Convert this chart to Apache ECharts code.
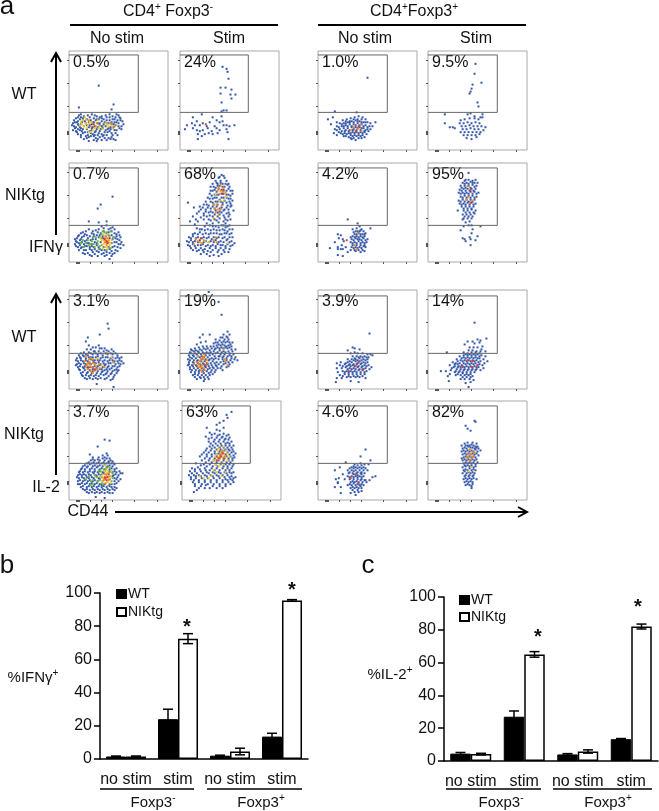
<!DOCTYPE html>
<html>
<head>
<meta charset="utf-8">
<style>html,body{margin:0;padding:0;background:#fff}#main{width:659px;height:811px}</style>
<script src="https://cdn.jsdelivr.net/npm/echarts@6/dist/echarts.min.js"></script>
</head>
<body>
<div id="main"></div>
<script>
// flow panels: flat x,y lists in gate units (0-100 both ways), hot lists are x,y,level
const p1Blue = [30,65,10,43,45,46,43,41,10,35,15,34,23,36,28,34,37,35,44,34,48,36,51,33,7,32,12,33,18,31,25,32,31,33,35,31,41,33,46,31,52,32,5,30,9,29,14,30,20,28,27,30,33,29,38,30,43,28,49,30,54,29,4,27,8,28,12,26,17,27,23,26,29,27,35,26,40,27,45,26,50,27,5,24,10,25,15,24,20,23,26,24,31,25,37,24,42,23,47,25,53,24,6,22,12,22,18,21,23,22,28,21,34,22,39,21,44,22,51,22,7,19,11,20,16,18,21,19,26,18,31,19,36,18,41,19,48,20,9,16,14,17,19,15,24,16,29,15,33,16,38,15,43,17,49,15,12,13,18,12,22,14,27,12,31,13,36,12,45,11,20,9,28,9,38,10,47,10,
12,36,19,35,26,35,33,34,41,36,47,33,9,33,14,32,21,33,28,31,33,32,38,33,44,31,50,35,6,28,11,31,16,29,22,30,25,28,30,31,36,28,41,30,46,28,52,30,3,25,9,26,13,28,18,25,24,28,31,27,34,24,38,27,43,26,48,28,55,26,7,23,11,23,14,21,21,25,24,23,29,23,33,24,40,22,45,23,50,24,4,20,9,21,13,19,19,18,23,20,27,19,32,21,37,20,42,21,46,20,53,21,8,18,12,15,17,14,22,17,26,15,30,17,35,15,39,18,44,15,47,17,15,11,20,13,25,14,29,11,34,14,40,12,43,13,25,10,33,10,42,11];
const p1Hot = [14,30,2,17,27,2,19,25,2,15,24,2,18,22,2,21,28,2,22,24,3,25,26,4,26,22,2,24,20,2,28,27,3,31,24,2,37,27,2,40,24,2,43,25,2,46,24,3,48,26,2,34,21,2,20,18,2,17,31,2,12,28,2,16,33,2,20,30,3,23,28,2,27,24,3,29,30,2,13,26,2,11,25,2,22,18,2,30,22,2,35,24,2,42,27,3,44,22,2,39,26,2];
const p2Blue = [43,84,47,82,48,79,49,72,41,63,46,63,52,61,51,56,56,56,52,52,41,57,42,48,42,39,47,40,44,40,22,36,13,33,33,33,42,34,7,25,12,27,17,29,23,27,30,28,37,30,40,28,43,29,47,25,50,24,55,25,5,21,13,22,17,20,20,19,23,20,28,22,32,19,37,22,40,20,47,21,18,16,25,16,33,16,38,17,48,18,18,11,22,14,49,11,29,17,27,24,35,24,44,25,15,25,20,25];
const p2Hot = [26,26,4];
const p3Blue = [44,66,32,58,29,54,20,41,30,40,38,41,14,30,20,33,27,32,33,36,38,37,42,34,46,33,10,27,16,28,23,29,29,30,35,31,40,30,46,29,50,30,8,24,13,25,19,24,25,26,31,27,37,26,43,27,48,26,52,25,7,21,11,22,16,21,22,22,27,23,33,24,44,23,49,23,53,20,6,18,10,19,15,18,20,19,26,20,46,20,50,18,55,17,9,15,13,15,18,16,23,16,28,17,46,16,52,14,10,12,15,12,21,13,26,13,31,13,36,12,41,13,47,12,14,9,19,9,24,10,30,10,35,9,41,9,46,9,23,6,29,6,36,6,43,6,41,3,
17,31,24,31,30,33,35,34,40,33,44,35,12,29,18,27,25,28,32,29,38,29,43,31,48,28,9,26,15,26,21,26,28,27,34,26,40,27,45,25,51,27,6,23,12,23,18,22,24,23,30,25,35,24,41,24,47,24,51,22,8,20,13,20,18,19,23,18,28,19,32,20,38,20,43,19,48,20,52,18,7,16,11,17,16,16,21,15,25,15,30,15,35,15,40,15,44,15,49,15,12,14,17,12,23,12,28,11,33,12,38,10,43,11,49,11,16,8,21,7,26,8,33,8,38,7,44,8];
const p3Hot = [14,22,1,17,19,1,20,17,1,23,21,1,25,18,1,15,15,1,27,25,1,29,21,1,31,16,1,33,28,1,36,30,1,30,13,1,38,12,1,42,31,1,19,22,1,22,18,1,12,19,1,26,15,1,24,25,1,31,25,1,34,31,1,33,17,1,38,30,1,42,14,1,45,25,1,29,18,1,33,22,2,35,18,2,36,26,2,39,28,2,41,17,2,43,22,2,34,14,2,39,14,2,35,22,2,42,19,2,37,15,2,32,24,2,35,28,2,37,22,3,39,24,3,36,20,3,40,20,3,38,17,3,41,26,3,37,24,3,38,19,3,40,22,3,38,21,4,36,23,4,39,19,4];
const p4Blue = [42,88,39,85,45,85,36,82,41,82,47,82,33,79,38,79,43,79,49,79,31,76,36,75,40,77,45,76,50,76,33,72,37,71,42,73,47,72,51,72,30,69,35,68,39,68,44,69,49,68,53,69,28,65,33,64,37,65,42,65,47,65,51,64,26,61,31,61,36,61,41,61,45,62,50,61,24,58,29,57,34,58,38,58,43,58,48,57,52,57,8,60,14,55,20,56,21,53,26,53,31,54,35,54,40,54,45,53,49,53,54,52,17,49,24,49,29,50,33,50,38,50,42,50,47,49,13,46,21,45,27,46,33,46,38,46,45,45,49,46,10,41,18,41,31,42,37,42,44,41,48,42,30,37,36,36,42,37,46,35,50,37,17,34,22,33,28,33,34,33,40,32,45,32,50,33,15,29,20,30,26,29,31,29,37,29,42,28,47,29,52,29,9,25,13,26,18,25,24,25,29,25,34,25,39,25,45,25,50,25,7,21,11,22,15,21,20,22,26,21,31,21,36,22,41,21,47,22,52,21,55,19,8,17,13,18,18,17,23,18,28,17,33,17,38,18,43,17,48,18,53,17,11,14,16,14,21,14,25,13,30,14,36,14,41,14,46,14,50,13,17,11,24,10,31,10,38,10,45,10,30,6,39,6,
40,86,44,87,37,80,41,80,46,79,34,76,38,77,43,76,48,78,35,73,39,74,44,72,49,74,53,72,31,72,32,67,37,68,42,69,47,68,51,67,30,64,35,65,40,63,44,65,49,64,53,62,27,58,33,60,38,61,43,60,47,60,51,59,23,55,28,55,33,56,37,56,42,55,47,55,51,56,19,51,26,51,31,51,36,52,40,51,44,52,49,50,24,47,30,47,35,48,40,48,44,47,50,48,16,43,24,43,29,43,35,43,40,44,46,43,51,43,15,38,27,39,33,39,39,40,46,39,25,36,33,36,39,35,44,37,48,36,20,33,25,32,31,32,37,32,43,33,48,31,53,33,13,28,18,28,23,28,29,28,34,29,40,28,45,29,50,28,11,24,16,24,22,24,27,24,32,23,37,24,43,24,48,23,53,25,9,20,13,20,18,20,24,20,29,20,34,20,39,20,44,20,50,20,10,16,15,16,21,17,26,16,31,16,36,16,41,17,46,16,51,16,13,12,19,12,23,12,28,11,33,12,39,12,44,12,49,10,21,8,27,8,34,7,42,8];
const p4Hot = [41,72,3,44,75,3,38,72,3,41,78,3,46,70,3,36,68,2,34,58,3,38,53,3,42,57,3,36,50,3,40,62,2,47,66,2,34,44,3,18,21,3,22,19,3,16,23,3,25,21,2,34,22,3,37,20,3,14,18,3,48,19,2,21,24,4,44,73,4,43,69,4,39,75,3,43,71,3,40,69,3,37,58,3,35,54,3,41,53,3,39,48,3,20,20,3,24,22,3,36,25,3,44,62,2,29,20,2];
const p5Blue = [17,39,39,38,50,73,10,31,15,33,13,26,19,28,25,30,29,31,33,32,37,33,41,34,45,33,48,31,22,27,26,27,30,28,34,29,38,30,42,29,46,28,50,28,53,27,19,24,24,24,28,25,32,26,36,26,40,27,44,26,48,25,52,24,58,28,17,21,22,21,26,22,30,22,34,23,38,23,42,23,46,22,50,21,55,24,16,17,21,18,27,19,31,19,35,20,39,20,43,20,47,19,51,19,19,15,25,16,29,16,33,17,37,17,41,17,45,17,49,16,26,14,31,13,35,14,39,14,43,14,47,13,34,11,38,10,33,12,
28,29,32,29,36,31,40,31,44,31,24,26,28,27,32,28,36,28,40,29,44,28,48,28,21,23,26,24,30,24,34,24,38,25,42,25,46,24,50,23,19,20,24,19,28,20,32,20,36,21,40,22,44,22,48,20,53,21,23,17,27,17,31,17,35,18,39,18,43,18,47,18,28,14,33,15,37,15,41,15,45,15,36,12,41,12,44,12];
const p5Hot = [36,23,3,40,21,3,43,26,3,41,24,4,33,20,3,44,19,3,38,19,4];
const p6Blue = [48,87,47,77,54,68,45,66,44,62,43,59,42,57,50,48,51,44,17,36,17,27,22,23,25,23,27,22,40,36,43,37,55,36,53,33,47,34,33,30,37,31,42,32,47,32,51,31,55,33,32,27,36,27,40,28,44,27,48,28,52,27,34,24,38,24,42,25,46,24,50,24,54,24,58,23,35,21,39,21,43,22,47,21,51,21,56,20,33,18,37,18,41,18,45,18,49,18,53,18,36,15,40,15,44,15,48,15,52,16,39,12,44,11,49,13];
const p6Hot = [];
const p7Blue = [30,43,40,39,42,36,53,34,35,33,44,33,38,31,42,31,46,31,37,28,41,29,45,28,48,29,20,28,23,27,35,26,39,26,43,26,47,26,21,24,25,23,34,23,38,24,42,23,46,24,50,23,17,20,26,21,33,20,37,20,41,21,45,20,49,20,12,14,24,17,20,15,28,15,35,17,39,17,43,17,47,17,20,13,25,13,36,14,40,14,44,14,48,15,20,7,25,6,30,10,33,12,23,13,38,11,43,10,47,11,
39,34,43,32,40,31,36,30,43,28,39,28,47,28,33,25,37,25,41,25,45,25,36,22,40,23,44,22,48,22,35,19,39,19,43,19,47,19,34,15,38,15,42,15,46,16,37,12,41,12,45,12];
const p7Hot = [29,22,4,40,29,3,37,17,3,39,13,3];
const p8Blue = [41,90,38,83,48,83,35,80,39,80,43,81,47,80,50,80,33,77,37,77,41,77,45,78,49,77,32,73,36,74,40,74,44,74,48,74,31,70,35,70,39,70,43,71,47,71,51,70,33,66,37,67,41,67,45,67,49,66,31,62,35,63,39,63,43,63,47,63,32,59,36,59,40,60,44,60,48,59,34,56,38,56,42,56,46,56,30,52,36,52,40,52,44,53,48,52,35,48,39,48,43,48,47,49,36,44,40,44,44,44,38,40,42,41,35,43,36,36,41,37,44,37,53,36,33,32,45,33,44,29,35,24,37,23,42,25,43,23,50,26,48,22,38,21,43,17,
37,82,41,83,45,82,37,79,41,79,45,80,34,75,38,75,43,75,47,76,34,72,38,72,42,72,46,72,33,69,37,69,41,69,45,69,49,69,35,65,39,65,43,65,47,65,33,61,37,61,41,61,45,61,34,58,38,58,42,58,46,58,36,54,40,54,44,54,38,50,42,50,46,50,37,46,41,46,45,46];
const p8Hot = [40,77,3,43,73,4,41,66,3,39,63,3,43,60,4,45,62,3];
const p9Blue = [39,66,40,61,31,55,19,52,17,48,20,44,30,44,22,40,27,42,36,41,15,37,20,37,25,38,30,38,35,38,40,38,45,38,10,34,14,34,19,34,24,35,29,35,34,34,39,35,44,35,49,34,8,31,12,31,17,31,22,32,27,32,32,31,37,32,42,31,47,31,51,31,9,28,14,28,19,28,24,29,29,29,34,28,39,28,44,29,49,28,53,28,8,25,12,25,17,25,22,25,27,26,32,25,37,25,42,26,47,25,52,25,9,22,14,22,19,22,24,22,29,23,34,22,39,22,44,23,49,22,11,19,16,19,21,19,26,19,31,20,36,19,41,20,46,19,50,19,12,16,18,16,23,16,28,16,33,17,38,16,43,16,48,16,14,13,20,13,25,13,30,13,35,14,40,13,45,12,18,10,24,10,29,10,36,10,42,9,28,5,45,2,
24,42,33,41,18,40,26,38,31,41,38,39,43,40,12,36,17,35,22,36,27,36,32,36,37,36,42,36,47,36,11,32,15,33,20,32,24,32,29,33,34,32,39,32,44,32,49,32,53,32,7,29,12,29,17,29,22,30,26,29,31,29,36,29,41,29,46,28,51,29,10,26,15,26,20,26,25,27,30,27,35,26,40,26,45,27,50,26,55,26,7,24,11,23,16,23,21,24,26,23,31,24,36,24,40,23,46,23,51,23,10,20,15,21,19,21,24,20,28,21,33,20,38,20,43,21,48,20,14,17,19,17,24,18,29,18,34,18,39,18,44,18,49,18,13,14,17,14,22,14,27,14,32,15,37,15,42,15,46,14,16,11,21,11,27,11,32,11,38,11,44,10];
const p9Hot = [18,24,3,21,27,3,23,22,3,24,30,3,19,20,3,26,25,3,22,18,3,28,20,3,16,28,3,30,25,3,17,33,3,43,32,2,38,36,3,21,22,4,26,20,4,25,18,3,20,30,3,19,26,3,22,31,3,17,22,3,24,26,3,27,23,3,21,24,2,24,16,3,29,30,3,31,21,3,33,24,2,36,22,3,45,27,3];
const p10Blue = [29,98,39,88,42,75,48,58,50,55,44,55,47,53,41,52,45,50,49,50,36,50,30,55,20,52,23,55,38,47,42,47,46,47,50,47,53,47,34,46,37,44,41,44,45,44,49,44,52,43,26,48,17,45,21,47,36,41,40,41,44,41,48,41,52,40,56,40,11,40,15,41,19,42,23,43,27,43,31,43,10,37,14,38,18,38,22,39,26,40,30,39,34,38,38,37,42,37,46,37,50,36,54,35,9,34,13,34,17,35,21,35,25,36,29,36,33,35,40,33,44,33,48,33,52,33,56,32,58,29,8,30,12,31,16,31,20,32,24,32,28,32,32,31,36,31,43,30,47,29,51,29,55,30,9,27,13,27,17,28,21,28,25,28,29,29,33,28,37,27,41,27,46,26,50,25,8,24,12,24,16,24,20,25,24,25,28,25,32,24,36,24,42,23,47,22,10,20,14,21,18,21,22,21,26,22,30,21,34,21,38,21,43,19,11,17,15,17,19,18,23,18,27,18,31,17,35,17,13,14,18,14,22,14,26,14,30,14,17,10,21,11,25,10,29,10,24,8,
43,52,48,52,40,49,44,48,48,48,51,45,36,47,39,45,43,45,47,43,50,42,34,43,38,42,42,42,46,42,12,39,16,39,20,40,24,41,28,41,32,41,35,40,40,39,44,38,49,38,53,38,11,36,15,36,19,37,23,37,27,37,31,37,36,36,41,35,45,35,50,34,10,32,14,33,18,33,22,33,26,34,30,34,35,33,39,33,43,32,47,31,52,31,10,29,14,29,18,29,22,30,26,30,30,30,34,30,39,30,44,28,49,27,53,27,9,25,14,26,18,26,23,26,27,26,31,26,35,26,39,25,44,25,49,23,10,22,13,23,17,23,21,23,25,23,29,23,33,22,37,23,41,21,12,19,16,19,20,19,24,20,28,20,32,19,36,19,15,15,19,16,24,16,29,16,33,15,15,12,20,12,24,12,28,12];
const p10Hot = [19,25,3,21,30,3,23,27,3,20,22,3,24,21,3,22,17,3,25,33,3,18,33,3,26,24,4,22,24,3,27,29,3,24,35,3,14,25,3,46,28,3,48,24,3,44,40,3,20,28,3,22,22,3,24,30,3,17,27,3,25,19,3,28,26,3,21,19,3,18,23,3,45,30,3,23,32,3];
const p11Blue = [52,56,35,42,37,41,30,39,42,40,40,36,45,36,50,35,55,34,53,35,37,37,33,36,35,33,39,33,43,33,47,33,51,32,30,30,34,30,38,30,42,31,46,30,50,30,19,26,23,27,30,27,34,27,38,28,42,28,46,27,50,27,22,24,27,25,31,24,35,24,39,25,43,25,47,24,51,24,54,22,19,21,24,21,28,22,32,21,36,21,40,22,44,22,48,21,52,20,20,17,25,18,29,18,33,18,37,18,41,19,45,19,49,18,22,14,27,15,31,15,35,15,39,15,43,15,47,15,19,11,18,7,24,11,29,12,33,12,38,12,42,12,48,11,33,8,41,7,
37,31,41,32,45,32,49,32,32,28,36,29,40,29,44,29,48,29,28,26,32,25,36,25,40,26,44,26,48,26,25,23,29,23,33,23,37,23,41,23,45,23,49,23,30,20,34,20,38,20,42,20,46,20,27,17,31,17,35,17,39,17,43,17,47,17,25,13,31,13,36,13,40,13,45,13];
const p11Hot = [41,27,4,38,23,4,45,20,4,31,18,4];
const p12Blue = [47,67,59,51,50,50,53,49,37,45,40,48,45,48,47,46,52,47,55,43,19,37,42,42,46,42,50,42,54,40,58,38,41,39,45,39,49,38,53,38,36,37,38,35,42,35,46,35,50,35,54,34,58,33,32,33,36,32,40,32,44,32,48,32,52,31,56,30,60,28,29,30,33,29,37,29,41,29,45,29,49,29,53,28,57,26,25,27,28,26,32,26,36,26,40,26,44,26,48,26,52,25,22,24,13,18,21,8,20,13,27,23,31,23,35,23,39,23,43,23,47,23,51,22,56,21,24,21,29,20,33,20,37,20,41,20,45,20,49,20,53,19,18,18,27,17,31,17,35,17,39,17,43,17,47,17,22,15,28,14,33,14,37,14,41,14,45,13,33,10,37,10,42,10,46,9,38,6,43,7,41,2,
44,37,48,37,52,36,40,36,36,34,40,34,44,34,48,34,52,33,34,31,38,31,42,31,46,31,50,31,30,28,35,28,39,28,43,28,47,28,51,27,27,25,30,25,34,24,38,25,42,25,46,25,50,24,55,24,26,22,30,22,33,22,37,22,41,22,45,22,49,22,23,19,28,18,32,18,36,19,40,19,44,19,48,19,30,15,35,16,39,15,43,15,35,12,39,12,43,12];
const p12Hot = [40,29,4,45,28,4,35,22,4,50,24,4,44,22,4];
const p13Blue = [36,61,41,60,29,54,21,46,38,47,34,45,39,45,24,43,30,43,36,43,41,42,22,40,26,40,31,40,36,40,40,39,44,39,18,37,23,37,28,37,33,37,38,37,43,37,14,34,19,34,24,34,29,34,34,34,39,34,44,34,12,31,16,31,21,31,26,31,31,31,36,31,41,31,46,31,10,28,14,28,19,28,24,28,29,28,34,28,44,28,48,28,54,27,9,25,13,25,17,25,22,25,27,25,32,25,45,25,50,25,10,22,15,22,20,22,25,22,30,22,46,22,52,21,9,19,14,19,19,19,24,19,29,19,34,19,46,19,50,19,11,16,16,16,21,16,26,16,31,16,36,16,41,16,46,16,12,13,18,13,23,13,28,13,33,13,38,13,43,13,48,12,16,10,21,10,26,10,31,10,36,10,41,10,46,10,20,7,26,7,31,7,36,7,41,7,27,3,36,2,
24,41,29,41,34,42,38,42,42,40,20,38,25,38,30,38,35,38,40,38,45,37,16,35,21,36,26,35,31,35,36,36,41,35,46,36,13,32,18,33,23,32,28,33,33,32,38,33,43,32,48,32,11,29,16,29,21,29,26,29,31,29,36,29,41,29,46,29,51,29,11,26,15,26,20,26,25,27,30,26,35,27,40,26,47,26,52,27,8,23,13,23,18,23,23,23,28,24,33,23,44,24,49,23,11,20,16,20,21,20,26,20,31,21,36,21,41,21,48,21,9,16,13,17,18,17,23,17,28,17,33,15,43,16,48,17,14,14,20,14,25,14,30,14,35,14,41,14,46,13,14,11,18,11,24,11,29,11,34,11,39,11,44,11,18,8,23,8,28,8,33,8,39,8,44,7];
const p13Hot = [20,24,1,24,20,1,28,23,1,30,30,1,33,26,1,37,31,1,41,33,1,44,27,1,33,17,1,22,15,1,39,14,1,43,19,1,17,21,1,22,19,1,26,25,1,29,19,1,32,29,1,35,31,1,41,28,1,24,16,1,31,20,1,35,16,1,44,22,1,38,33,1,34,22,2,38,28,2,42,24,2,36,35,2,39,18,2,31,24,2,43,30,2,33,24,2,41,22,2,36,29,2,34,19,2,42,17,2,39,30,2,36,26,3,38,24,3,35,20,3,40,20,3,37,17,3,40,27,3,36,21,3,41,24,3,38,26,3,37,22,4,39,23,4,36,23,4,38,20,4];
const p14Blue = [50,89,45,86,42,80,38,78,46,83,35,76,25,73,38,70,42,73,35,71,28,68,33,67,38,66,42,67,47,66,24,64,30,63,35,63,40,63,44,62,48,63,27,59,32,59,37,59,42,59,46,58,50,59,31,55,36,55,40,55,44,55,48,55,52,55,25,52,30,52,35,51,39,51,44,51,47,51,51,51,22,48,27,48,33,47,37,47,41,48,46,48,50,48,54,47,18,44,25,44,30,44,35,44,40,44,45,44,49,44,53,43,20,40,27,40,32,40,37,40,42,40,47,40,51,40,14,37,22,36,28,36,34,36,39,36,44,36,48,36,52,36,10,32,16,33,23,32,30,32,35,32,41,32,46,32,50,32,8,29,13,29,19,29,25,28,31,28,37,28,43,28,48,28,52,28,7,25,12,25,17,25,23,25,29,25,35,25,41,25,46,25,50,24,54,23,9,21,14,22,20,22,26,22,32,22,38,22,44,21,49,21,11,18,17,18,23,18,29,18,35,18,41,18,47,18,52,18,13,14,19,14,24,15,31,14,38,14,44,14,15,10,12,8,
30,66,36,65,41,64,45,65,27,62,33,61,38,61,43,61,47,61,29,57,34,57,39,57,44,57,48,57,28,54,33,53,38,53,42,53,46,53,50,53,24,50,29,50,33,49,38,49,43,50,48,50,52,49,20,46,25,46,30,46,35,46,39,46,44,46,48,46,52,45,23,42,28,42,33,42,38,42,43,42,47,42,51,42,24,38,30,38,35,38,40,38,45,38,49,38,19,35,25,34,31,34,36,34,42,34,46,34,51,34,13,31,18,31,24,30,28,30,33,30,38,30,44,30,48,30,10,27,15,27,21,27,27,27,33,27,39,27,45,27,50,27,9,23,14,24,19,24,25,24,31,24,37,24,43,23,48,23,52,22,12,20,17,20,23,20,29,20,35,20,41,20,46,20,51,20,13,16,20,16,26,16,32,16,38,16,44,16,49,16,17,12,23,12,28,12,35,12,41,12];
const p14Hot = [36,50,2,42,54,2,40,47,2,33,44,2,46,47,2,38,41,2,34,36,2,42,36,2,30,25,2,35,28,2,40,24,2,22,22,2,46,40,2,44,50,2,37,52,2,39,37,2,44,43,2,41,44,2,35,46,2,48,44,2,32,40,2,37,34,2,27,22,2,18,24,2,32,30,2,44,28,2,38,46,3,41,50,3,36,43,3,43,44,3,40,49,3,38,43,3,42,47,3,39,44,4,37,42,4,41,47,4,35,40,4,42,42,4];
const p15Blue = [48,51,43,44,53,40,28,38,22,33,17,30,51,36,37,36,43,37,47,36,34,33,38,33,42,33,46,33,30,30,34,30,38,30,42,30,46,30,50,30,58,24,55,23,21,22,25,26,31,27,35,27,39,27,43,27,47,27,30,24,34,24,38,24,42,24,46,24,18,21,27,21,32,21,36,21,40,21,44,21,48,20,52,20,20,18,33,18,37,18,41,18,45,18,49,18,20,17,17,13,23,13,30,15,34,15,38,15,42,15,46,15,33,12,37,12,41,12,44,12,23,7,33,7,37,8,41,8,44,9,38,5,
36,34,40,35,44,35,32,32,36,32,40,32,44,32,48,32,32,28,36,29,40,28,44,28,36,26,40,25,44,26,32,23,36,23,40,23,44,23,35,19,39,19,43,20,47,20,32,16,36,17,40,16,44,16,35,13,39,13,43,14,35,10,40,10];
const p15Hot = [38,26,4,33,22,4,41,17,4];
const p16Blue = [47,80,48,79,38,75,40,72,43,70,40,58,45,58,37,57,49,57,34,55,38,55,42,55,46,55,50,54,35,52,39,52,43,53,47,52,51,52,53,50,34,49,38,49,42,49,46,49,50,49,35,46,39,46,43,46,47,46,51,45,36,43,40,43,44,43,48,43,34,42,35,40,39,40,43,40,47,40,50,38,36,37,40,37,44,37,48,36,35,33,38,34,42,34,46,33,36,30,40,30,44,30,48,30,35,27,39,27,43,27,47,27,37,24,41,24,45,24,36,21,40,21,44,21,49,21,37,18,41,18,45,18,38,15,42,15,45,16,44,12,
40,55,44,56,48,54,37,53,41,54,45,53,49,53,36,50,40,50,44,50,48,51,37,47,41,47,45,47,49,47,38,44,42,44,46,44,37,41,41,41,45,41,49,41,38,38,42,38,46,38,37,35,40,35,44,35,48,34,38,31,42,32,46,31,37,29,41,28,45,28,38,25,42,25,46,25,38,22,42,22,46,22,39,19,43,19,40,16,44,14];
const p16Hot = [42,51,3,45,49,3,40,47,3,43,46,3,46,44,3,41,44,3,44,42,3,42,40,3,39,43,3,47,48,3,44,33,2,41,29,2];

const pctLabels = ['0.5%','24%','1.0%','9.5%','0.7%','68%','4.2%','95%','3.1%','19%','3.9%','14%','3.7%','63%','4.6%','82%'];
const gateRight = [70,69,70,70];
const gateTop = [96,95,94,95];
const gateBottom = [38,37,36,37];
const xTickVals = [7,8,9,10,21,33,44,66,89];
const yTickVals = [91,67,44,19,18,17,16];

// bars
const barCats = ['no stim','stim','no stim','stim'];
const ifnWT = [1.5,24,2,13.5];
const ifnTg = [1.5,72.5,4.5,95.5];
const ifnWTErr = [0.3,6,0.3,2];
const ifnTgErr = [0.3,3,2,0.5];
const il2WT = [4.5,27,4,13.3];
const il2Tg = [4.2,65,5.8,82];
const il2WTErr = [0.7,3.5,0.5,0.4];
const il2TgErr = [0.5,1.7,1,1.5];

const FONT = '"Liberation Sans", Arial, sans-serif';
const levelColors = ['#3457a8','#6fb544','#f0c92a','#f08a20','#e63a28'];
const colLeft = [69,180,318,428];
const rowTop = [51,163,290,401];
const allBlue = [p1Blue,p2Blue,p5Blue,p6Blue,p3Blue,p4Blue,p7Blue,p8Blue,p9Blue,p10Blue,p11Blue,p12Blue,p13Blue,p14Blue,p15Blue,p16Blue];
const allHot = [p1Hot,p2Hot,p5Hot,p6Hot,p3Hot,p4Hot,p7Hot,p8Hot,p9Hot,p10Hot,p11Hot,p12Hot,p13Hot,p14Hot,p15Hot,p16Hot];

function toPoints(blue, hot) {
  const out = [];
  for (let i = 0; i < blue.length; i += 2) out.push([blue[i], blue[i + 1], 0]);
  for (let i = 0; i < hot.length; i += 3) out.push([hot[i], hot[i + 1], hot[i + 2]]);
  return out;
}

const grids = [], xAxes = [], yAxes = [], series = [], graphics = [];

function txt(x, y, text, size, align, extra) {
  graphics.push({ type: 'text', silent: true, style: Object.assign({
    x: x, y: y, text: text, fontSize: size, fontFamily: FONT, fill: '#111', align: align || 'center', verticalAlign: 'middle'
  }, extra || {}) });
}
function supRich(size) {
  return { rich: {
    n: { fontSize: size, fontFamily: FONT, fill: '#111' },
    s: { fontSize: 10, fontFamily: FONT, fill: '#111', padding: [0, 0, 9, 0] }
  } };
}
function seg(points, width) {
  graphics.push({ type: 'polyline', silent: true, shape: { points: points }, style: { stroke: '#000', lineWidth: width, fill: null } });
}

// flow panels
for (let r = 0; r < 4; r++) {
  for (let c = 0; c < 4; c++) {
    const i = grids.length;
    const left = colLeft[c] + (r === 3 && c === 1 ? 2 : 0);
    grids.push({ left: left, top: rowTop[r], width: 99, height: 99, show: true, borderColor: '#a8a8a8', borderWidth: 1, backgroundColor: '#fff' });
    xAxes.push({ type: 'value', gridIndex: i, min: 0, max: 100, splitLine: { show: false }, axisLine: { show: false }, axisLabel: { show: false },
      axisTick: { show: true, length: 2, customValues: xTickVals, lineStyle: { color: '#555' } } });
    yAxes.push({ type: 'value', gridIndex: i, min: 0, max: 100, splitLine: { show: false }, axisLine: { show: false }, axisLabel: { show: false },
      axisTick: { show: true, length: 2, customValues: yTickVals, lineStyle: { color: '#555' } } });
    series.push({ type: 'scatter', xAxisIndex: i, yAxisIndex: i, silent: true, animation: false, symbol: 'rect', symbolSize: 2,
      data: toPoints(allBlue[i], allHot[i]),
      itemStyle: { opacity: 1, color: p => levelColors[p.value[2]] } });
    series.push({ type: 'line', xAxisIndex: i, yAxisIndex: i, silent: true, animation: false, symbol: 'none',
      lineStyle: { color: '#666', width: 1 },
      data: [[0, gateTop[r]], [gateRight[c], gateTop[r]], [gateRight[c], gateBottom[r]], [0, gateBottom[r]]] });
    txt(left + 4, rowTop[r] + 12, pctLabels[i], 16, 'left');
  }
}

// error bars sit on the bar centres, half a bar off the category centre
function errSeries(gi, vals, errs, off) {
  return { type: 'custom', xAxisIndex: gi, yAxisIndex: gi, silent: true, animation: false, clip: false, z: 5,
    encode: { x: 0, y: [1, 2] },
    data: vals.map((v, k) => [k, v - errs[k], v + errs[k]]),
    renderItem: function (params, api) {
      const lo = api.coord([api.value(0), api.value(1)]);
      const hi = api.coord([api.value(0), api.value(2)]);
      const x = lo[0] + off;
      const st = { stroke: '#000', lineWidth: 1.5, fill: null };
      return { type: 'group', children: [
        { type: 'line', shape: { x1: x, y1: lo[1], x2: x, y2: hi[1] }, style: st },
        { type: 'line', shape: { x1: x - 5, y1: lo[1], x2: x + 5, y2: lo[1] }, style: st },
        { type: 'line', shape: { x1: x - 5, y1: hi[1], x2: x + 5, y2: hi[1] }, style: st }
      ] };
    } };
}
function barPanel(left, top, width, height, barW, wt, tg, wtErr, tgErr) {
  const gi = grids.length;
  grids.push({ left: left, top: top, width: width, height: height });
  xAxes.push({ type: 'category', gridIndex: gi, data: barCats,
    axisLine: { lineStyle: { color: '#000', width: 1.5 } }, axisTick: { show: false },
    axisLabel: { fontSize: 16, fontFamily: FONT, color: '#111', margin: 13, interval: 0 } });
  yAxes.push({ type: 'value', gridIndex: gi, min: 0, max: 100, interval: 20, splitLine: { show: false },
    axisLine: { show: true, lineStyle: { color: '#000', width: 1.5 } },
    axisTick: { show: true, length: 6, lineStyle: { color: '#000', width: 1.5 } },
    axisLabel: { fontSize: 16, fontFamily: FONT, color: '#111', margin: 8 } });
  series.push({ name: 'WT', type: 'bar', xAxisIndex: gi, yAxisIndex: gi, animation: false, silent: true, data: wt, barWidth: barW, barGap: 0,
    itemStyle: { color: '#000', borderColor: '#000', borderWidth: 1 } });
  series.push({ name: 'NIKtg', type: 'bar', xAxisIndex: gi, yAxisIndex: gi, animation: false, silent: true, data: tg, barWidth: barW, barGap: 0,
    itemStyle: { color: '#fff', borderColor: '#000', borderWidth: 1.5 } });
  series.push(errSeries(gi, wt, wtErr, -barW / 2));
  series.push(errSeries(gi, tg, tgErr, barW / 2));
}
barPanel(100, 593, 208, 166, 20, ifnWT, ifnTg, ifnWTErr, ifnTgErr);
barPanel(444, 597, 214, 164, 20.5, il2WT, il2Tg, il2WTErr, il2TgErr);

// panel letters and headers
txt(7, 7, 'a', 26);
txt(7, 566, 'b', 26);
txt(368, 566, 'c', 26);
txt(168, 12, '{n|CD4}{s|+}{n| Foxp3}{s|-}', 16, 'center', supRich(16));
txt(414, 12, '{n|CD4}{s|+}{n|Foxp3}{s|+}', 16, 'center', supRich(16));
seg([[70, 25], [278, 25]], 2);
seg([[318, 25], [526, 25]], 2);
txt(117, 39, 'No stim', 16);
txt(229, 39, 'Stim', 16);
txt(365, 39, 'No stim', 16);
txt(476, 39, 'Stim', 16);
txt(24, 95, 'WT', 16);
txt(25, 196, 'NIKtg', 16);
txt(24, 338, 'WT', 16);
txt(24, 435, 'NIKtg', 16);
txt(46, 248, 'IFNγ', 16);
txt(46, 488, 'IL-2', 16);
txt(88, 512, 'CD44', 16);

// arrows
seg([[56, 235], [56, 53]], 2);
seg([[51, 62], [56, 53], [61, 62]], 2);
seg([[56, 475], [56, 294]], 2);
seg([[51, 303], [56, 294], [61, 303]], 2);
seg([[115, 512], [526, 512]], 2);
seg([[518, 507], [527, 512], [518, 517]], 2);

// group labels under the bars
seg([[100, 789], [194, 789]], 1.5);
seg([[207, 789], [302, 789]], 1.5);
seg([[446, 789], [541, 789]], 1.5);
seg([[553, 789], [652, 789]], 1.5);
txt(153, 803, '{n|Foxp3}{s|-}', 15, 'center', supRich(15));
txt(261, 803, '{n|Foxp3}{s|+}', 15, 'center', supRich(15));
txt(501, 803, '{n|Foxp3}{s|-}', 15, 'center', supRich(15));
txt(608, 803, '{n|Foxp3}{s|+}', 15, 'center', supRich(15));
txt(33, 678, '{n|%IFNγ}{s|+}', 15, 'center', supRich(15));
txt(390, 675, '{n|%IL-2}{s|+}', 15, 'center', supRich(15));
const starExtra = { fontWeight: 'bold' };
txt(187, 627, '*', 20, 'center', starExtra);
txt(292, 590, '*', 20, 'center', starExtra);
txt(538, 637, '*', 20, 'center', starExtra);
txt(638, 607, '*', 20, 'center', starExtra);

const chart = echarts.init(document.getElementById('main'), null, { renderer: 'canvas' });
chart.setOption({
  backgroundColor: '#fff',
  animation: false,
  tooltip: { show: false },
  legend: [
    { left: 116, top: 587, padding: 0, orient: 'vertical', itemWidth: 9, itemHeight: 8, itemGap: 4, icon: 'rect', data: ['WT', 'NIKtg'],
      selectedMode: false, textStyle: { fontSize: 14, fontFamily: FONT, color: '#111', padding: [0, 0, 0, -3] } },
    { left: 459, top: 593, padding: 0, orient: 'vertical', itemWidth: 9, itemHeight: 8, itemGap: 3, icon: 'rect', data: ['WT', 'NIKtg'],
      selectedMode: false, textStyle: { fontSize: 14, fontFamily: FONT, color: '#111', padding: [0, 0, 0, -3] } }
  ],
  grid: grids,
  xAxis: xAxes,
  yAxis: yAxes,
  series: series,
  graphic: graphics
});
</script>
</body>
</html>
